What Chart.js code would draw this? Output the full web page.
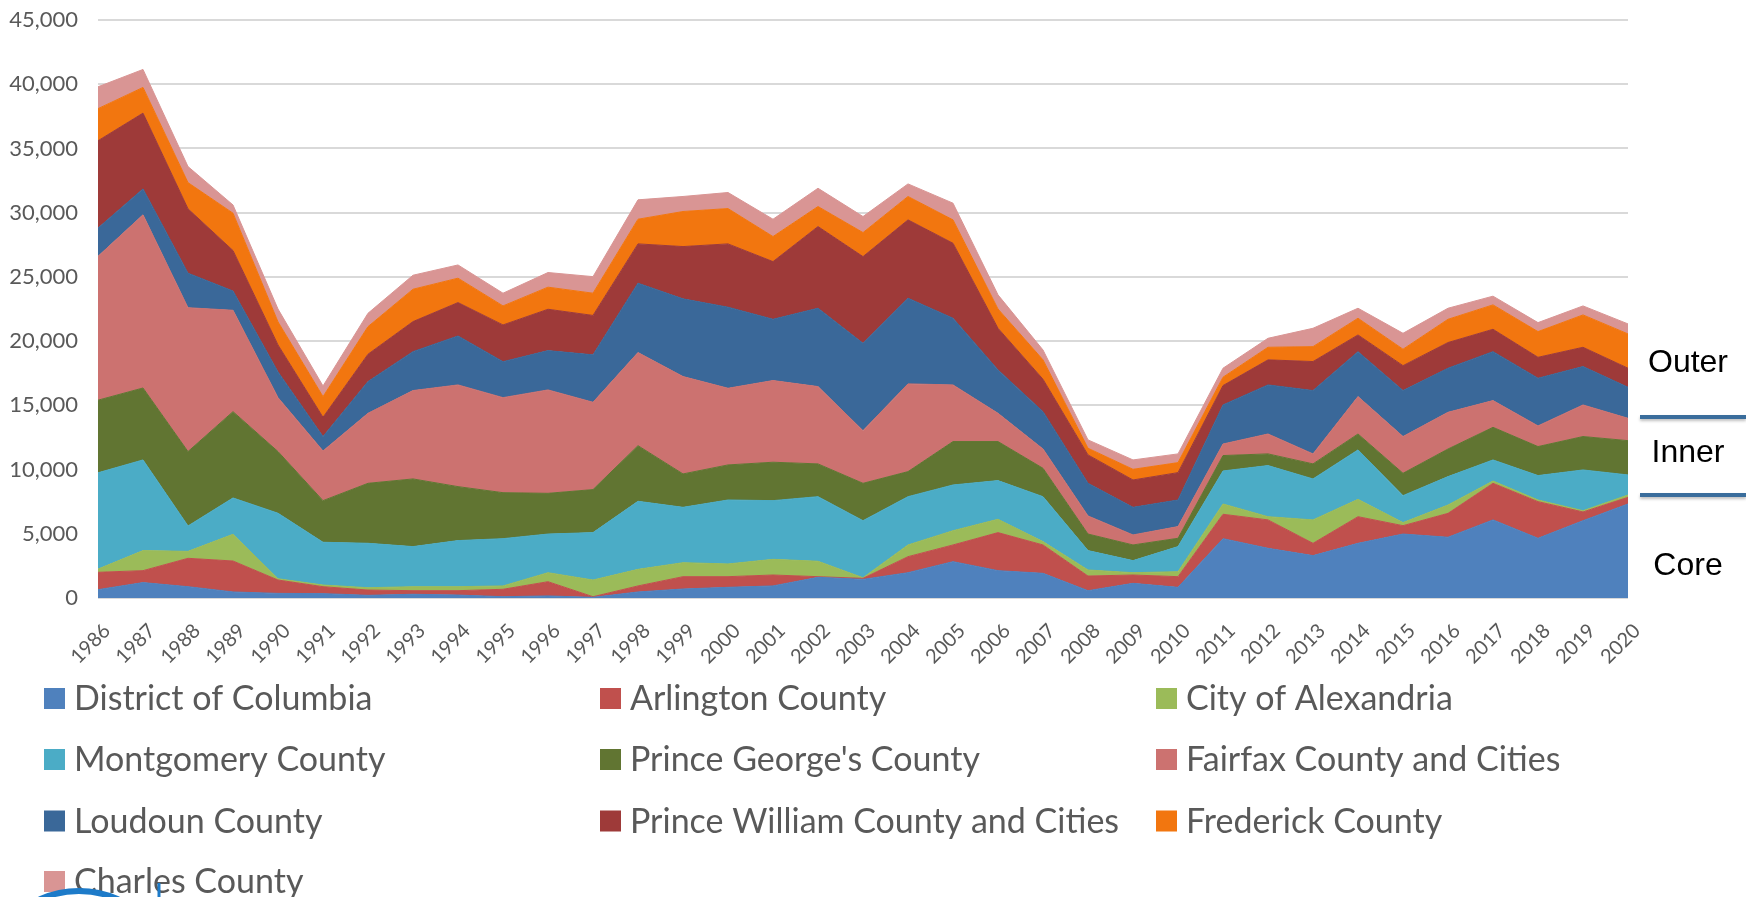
<!DOCTYPE html>
<html>
<head>
<meta charset="utf-8">
<script src="https://cdn.jsdelivr.net/npm/chart.js@4/dist/chart.umd.min.js"></script>
<style>
  html, body { margin: 0; padding: 0; background: #ffffff; }
  #wrap { position: relative; width: 1746px; height: 897px; }
</style>
</head>
<body>
<div id="wrap"><canvas id="c"></canvas></div>
<script>
const years = ['1986','1987','1988','1989','1990','1991','1992','1993','1994','1995','1996','1997','1998','1999','2000','2001','2002','2003','2004','2005','2006','2007','2008','2009','2010','2011','2012','2013','2014','2015','2016','2017','2018','2019','2020'];

const districtOfColumbia = [650,1200,880,470,360,340,210,290,230,100,160,50,470,700,830,940,1610,1450,1970,2830,2130,1920,570,1140,830,4620,3870,3300,4260,4980,4730,6080,4650,6020,7320];
const arlington = [1350,930,2210,2410,1040,540,410,280,340,580,1110,50,470,960,830,850,50,80,1250,1300,2960,2210,1140,650,830,1900,2210,960,2070,650,1860,2850,2850,680,520];
const alexandria = [250,1560,540,2080,100,130,180,310,310,260,700,1300,1290,1090,990,1220,1200,50,910,1110,1040,260,470,180,390,800,250,1820,1350,240,650,180,130,100,180];
const montgomery = [7500,7060,1980,2830,5100,3330,3460,3120,3590,3680,3010,3690,5300,4310,4980,4570,5030,4440,3760,3560,3010,3500,1510,940,1950,2570,3980,3190,3850,2100,2210,1640,1900,3170,1560];
const princeGeorges = [5650,5600,5790,6720,4800,3240,4670,5270,4200,3580,3170,3350,4330,2600,2730,2990,2550,2910,1950,3380,3040,2210,1290,1220,650,1200,910,1170,1240,1740,2150,2540,2260,2600,2670];
const fairfax = [11200,13480,11200,7890,4200,3870,5450,6880,7920,7400,8050,6800,7250,7580,5970,6360,6020,4100,6830,4410,2200,1500,1410,780,910,900,1550,780,2910,2860,2860,2080,1610,2460,1740];
const loudoun = [2200,2020,2690,1500,2000,1120,2470,3030,3810,2800,3060,3690,5400,6050,6310,4770,6100,6800,6670,5190,3380,2910,2540,2150,2070,3040,3820,4930,3500,3580,3430,3810,3710,2990,2420];
const princeWilliam = [6800,5900,5010,3150,2100,1500,2130,2340,2600,2860,3220,3070,3060,4070,4930,4490,6360,6750,6100,5840,3240,2520,2210,2130,2130,1510,1950,2260,1300,1940,2000,1740,1630,1500,1480];
const frederick = [2500,2000,2040,2910,1800,1610,2150,2520,1900,1480,1720,1730,1920,2730,2750,1950,1560,1870,1820,1820,1500,1510,520,830,780,650,980,1160,1300,1280,1810,1900,2000,2520,2670];
const charles = [1700,1400,1250,640,1000,830,1040,1090,1030,990,1140,1290,1510,1170,1250,1350,1420,1250,980,1300,1100,770,650,730,680,700,700,1430,780,1240,860,680,700,700,780];

const seriesNames = ['District of Columbia','Arlington County','City of Alexandria','Montgomery County',"Prince George's County",'Fairfax County and Cities','Loudoun County','Prince William County and Cities','Frederick County','Charles County'];
const seriesValues = [districtOfColumbia, arlington, alexandria, montgomery, princeGeorges, fairfax, loudoun, princeWilliam, frederick, charles];
const seriesColors = ['#4F81BD','#C0504D','#9BBB59','#4BACC6','#617532','#CC7270','#3A6899','#9E3A39','#F2760F','#D99594'];

const yTicks = [0,5000,10000,15000,20000,25000,30000,35000,40000,45000];
const zoneLabels = ['Outer','Inner','Core'];

const datasets = seriesNames.map((name, i) => ({
  label: name,
  data: seriesValues[i],
  backgroundColor: seriesColors[i],
  borderColor: seriesColors[i],
  borderWidth: 1,
  pointRadius: 0,
  pointHoverRadius: 0,
  tension: 0,
  fill: i === 0 ? 'origin' : '-1'
}));

const decor = {
  id: 'decor',
  afterDraw(chart) {
    const ctx = chart.ctx;
    ctx.save();
    // Legend grid (3 columns)
    const colSwatch = [44, 600, 1156];
    const rowY = [698.5, 759.5, 821, 881.5];
    ctx.font = '34px Lato';
    ctx.textBaseline = 'middle';
    ctx.textAlign = 'left';
    chart.data.datasets.forEach((ds, i) => {
      const col = i % 3, row = Math.floor(i / 3);
      const x = colSwatch[col], y = rowY[row];
      ctx.fillStyle = ds.backgroundColor;
      ctx.fillRect(x, y - 10.5, 21, 21);
      ctx.fillStyle = '#595959';
      ctx.fillText(ds.label, x + 30, y + 1);
    });

    // Zone labels and separator lines
    ctx.fillStyle = '#000000';
    ctx.font = '32px "Liberation Sans"';
    ctx.textAlign = 'center';
    const zoneY = [363, 453, 566];
    zoneLabels.forEach((t, i) => ctx.fillText(t, 1688, zoneY[i]));
    ctx.shadowColor = 'rgba(0,0,0,0.25)';
    ctx.shadowBlur = 3;
    ctx.shadowOffsetY = 2;
    ctx.strokeStyle = '#3A6D9C';
    ctx.lineWidth = 4;
    [417, 495].forEach(y => {
      ctx.beginPath();
      ctx.moveTo(1640, y);
      ctx.lineTo(1746, y);
      ctx.stroke();
    });
    ctx.shadowColor = 'transparent';

    // partial logo at bottom-left
    ctx.strokeStyle = '#1D7BC9';
    ctx.lineWidth = 6;
    ctx.beginPath();
    ctx.arc(79, 988, 97, Math.PI * 1.25, Math.PI * 1.75);
    ctx.stroke();
    ctx.lineWidth = 3;
    ctx.beginPath();
    ctx.moveTo(159, 883);
    ctx.lineTo(159, 897);
    ctx.stroke();
    ctx.restore();
  }
};

new Chart(document.getElementById('c'), {
  type: 'line',
  data: { labels: years, datasets },
  plugins: [decor],
  options: {
    responsive: true,
    maintainAspectRatio: false,
    devicePixelRatio: 1,
    animation: false,
    layout: { padding: { left: 0, right: 118, top: 20, bottom: 0 } },
    plugins: { legend: { display: false }, tooltip: { enabled: false } },
    scales: {
      x: {
        type: 'category',
        offset: false,
        grid: { display: false, drawTicks: false },
        border: { display: false },
        ticks: {
          autoSkip: false, minRotation: 45, maxRotation: 45,
          font: { family: 'Lato', size: 20 }, color: '#595959', padding: 21, labelOffset: 9
        },
        afterFit(s) { s.height = 299; s.paddingLeft = 0; s.paddingRight = 0; }
      },
      y: {
        stacked: true,
        min: 0, max: 45000,
        afterBuildTicks(s) { s.ticks = yTicks.map(v => ({ value: v })); },
        grid: { color: '#D9D9D9', lineWidth: 2, drawTicks: false },
        border: { display: false },
        ticks: {
          font: { family: 'Lato', size: 22 }, color: '#595959', padding: 20,
          callback: v => v.toLocaleString('en-US')
        },
        afterFit(s) { s.width = 98; s.paddingTop = 0; s.paddingBottom = 0; }
      }
    }
  }
});
</script>
</body>
</html>
